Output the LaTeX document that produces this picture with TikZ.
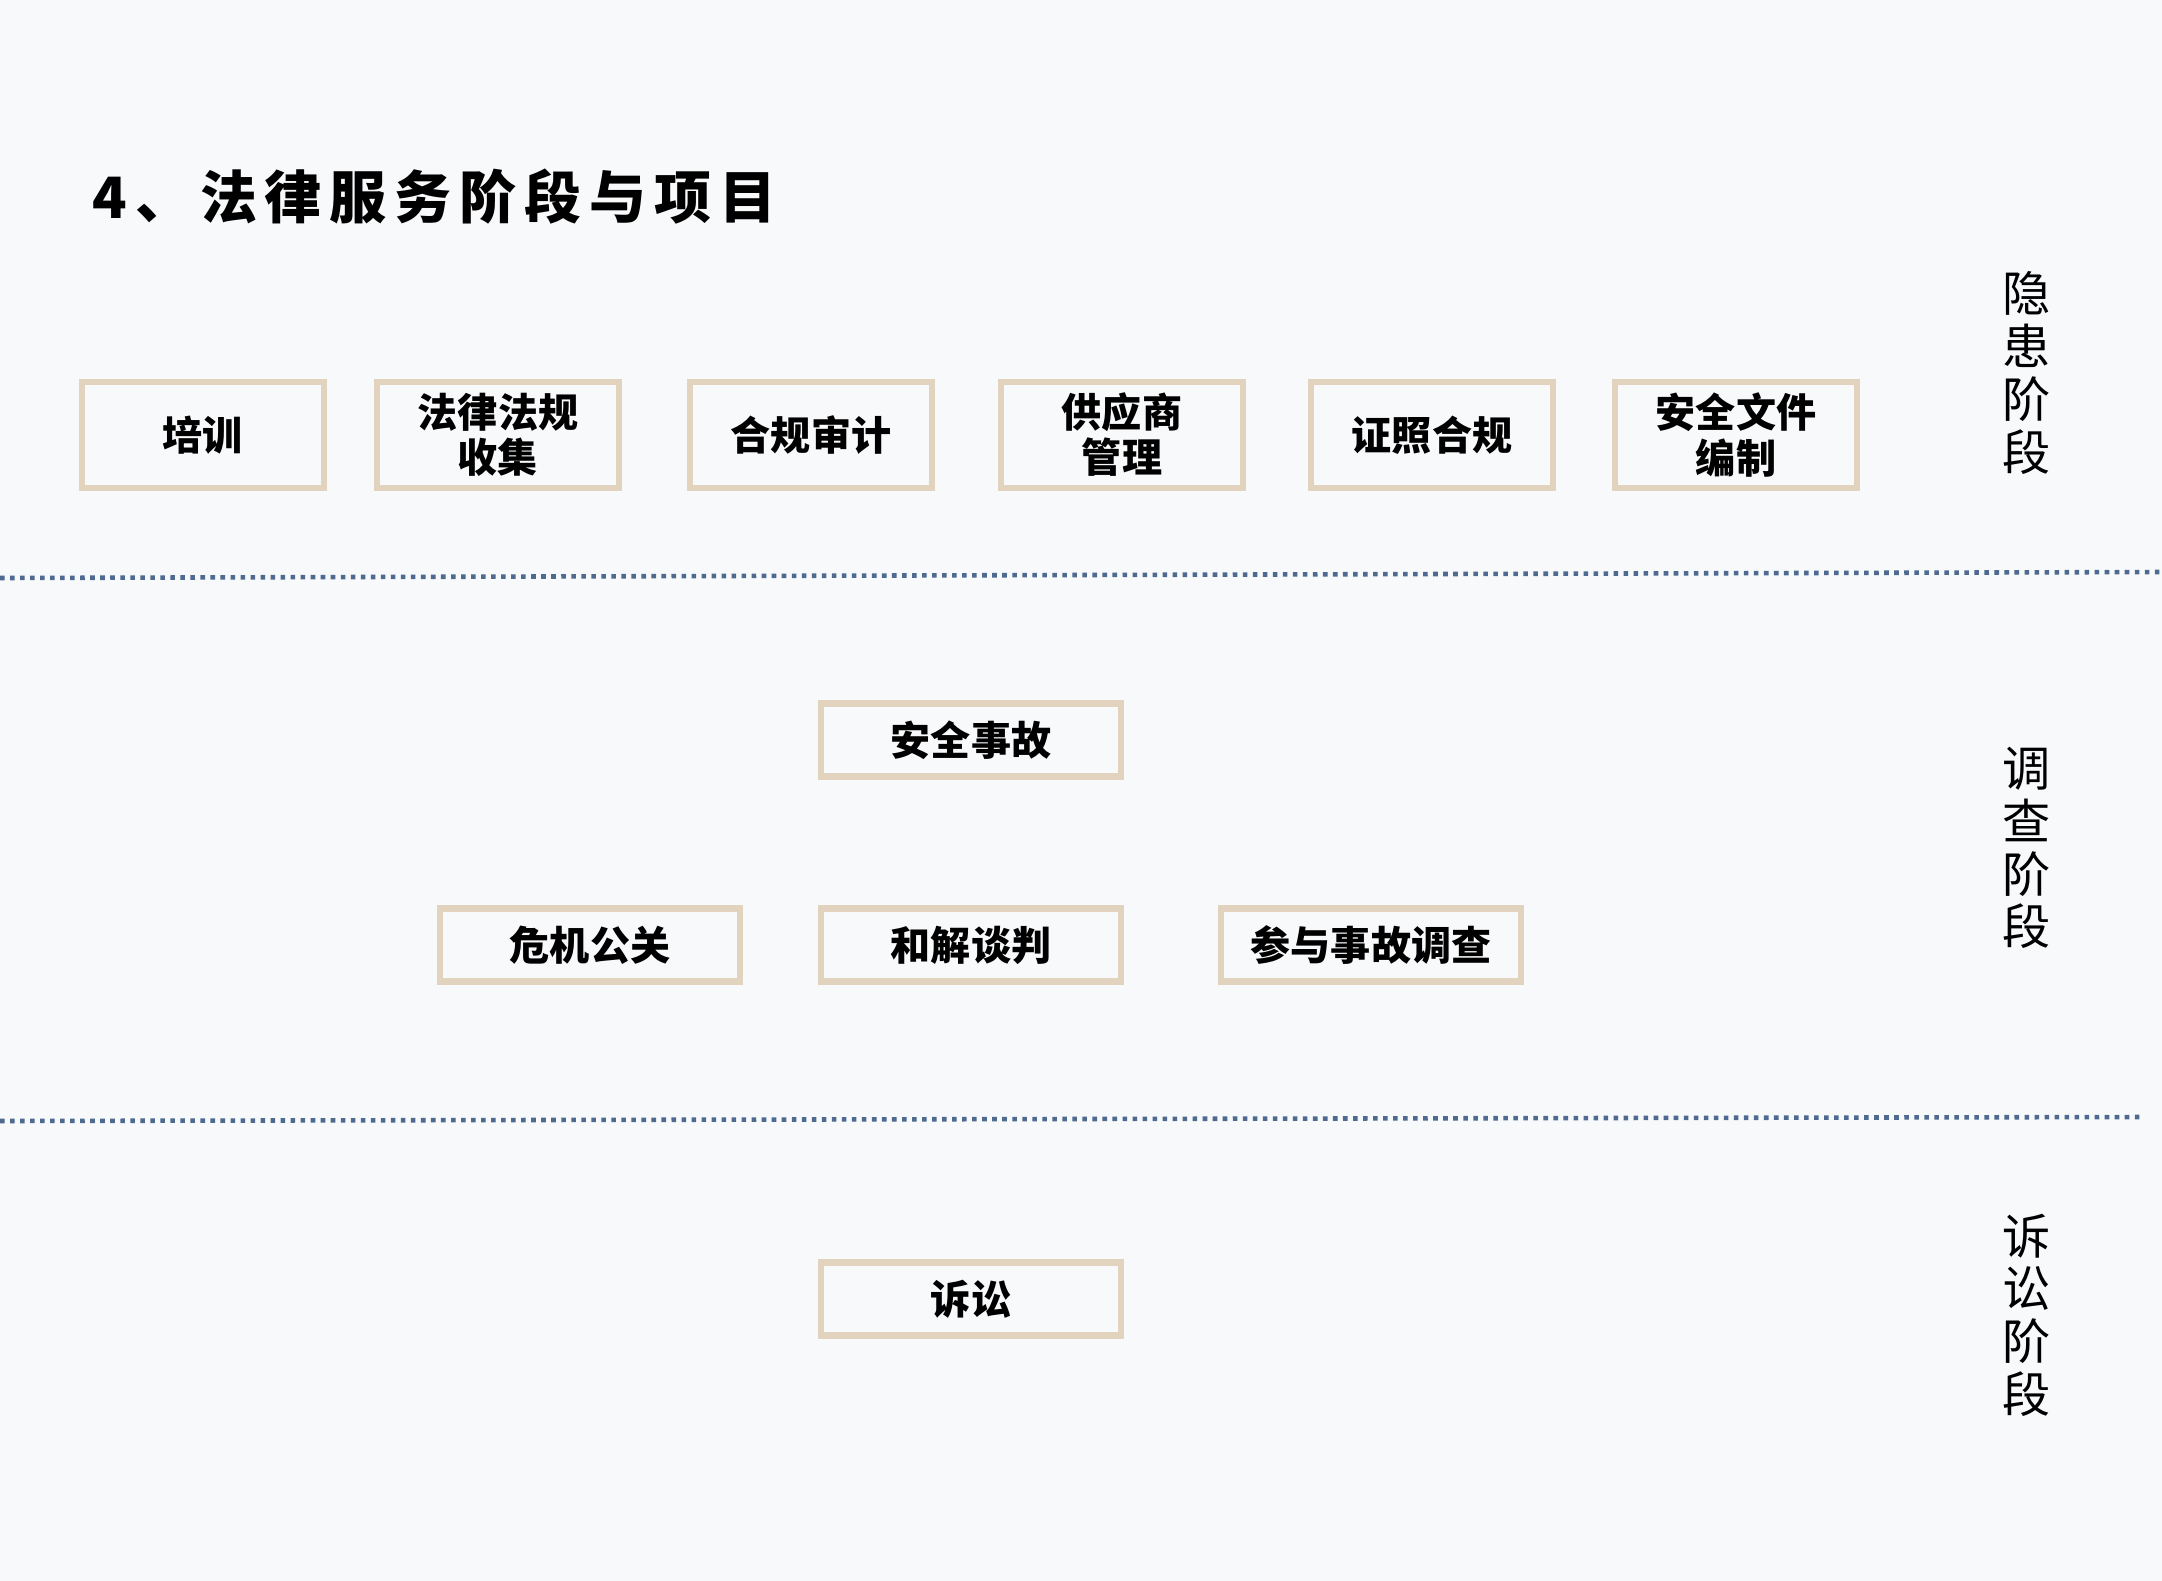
\documentclass[tikz,border=0pt]{standalone}
\usepackage{fontspec}
\setmainfont{Noto Sans CJK SC}
\newfontfamily\titlefont[LetterSpace=14]{Noto Sans CJK SC}
\usepackage{xcolor}
\usepackage{tikz}
\usetikzlibrary{positioning}
\definecolor{pagebg}{HTML}{F7F9FB}
\definecolor{boxline}{HTML}{E2D3BE}
\definecolor{dotline}{HTML}{4E6A90}

\begin{document}
\begin{tikzpicture}[
  x=0.01cm, y=-0.01cm,
  item/.style={draw=boxline, line width=1.85pt, fill=pagebg, inner sep=0pt,
    align=center, font=\fontsize{11.4}{12.8}\selectfont\bfseries},
  toprow/.style={item, minimum width=2.42cm, minimum height=1.06cm},
  midrow/.style={item, minimum width=3.0cm, minimum height=0.73cm},
  stagelab/.style={align=center, font=\fontsize{13.7}{15}\selectfont},
  divider/.style={dotline, line width=1.3pt, dash pattern=on 1.3pt off 1.55pt}
]
\fill[pagebg] (0,0) rectangle (2162,1581);
\useasboundingbox (0,0) rectangle (2162,1581);

\node[anchor=west, font=\titlefont\fontsize{16.2}{18}\selectfont\bfseries] (title) at (80,197) {4、法律服务阶段与项目};

% hidden-danger stage
\foreach \n/\x/\t in {peixun/203/培训, fagui/498/{法律法规\\收集}, shenji/811/合规审计,
    gongying/1122/{供应商\\管理}, zhengzhao/1432/证照合规, wenjian/1736/{安全文件\\编制}} {
  \node[toprow] (\n) at (\x,435) {\t};
}
\node[stagelab] (yinhuan) at (2027,373) {隐\\患\\阶\\段};

\coordinate (d1l) at (0,578);
\coordinate (d1r) at (2162,572);
\draw[divider] (d1l) -- (d1r);

% investigation stage
\node[midrow] (shigu) at (971,740) {安全事故};
\node[midrow] (weiji) at (590,945) {危机公关};
\node[midrow] (hejie) at (971,945) {和解谈判};
\node[midrow] (diaocha) at (1371,945) {参与事故调查};
\node[stagelab] (diaochajd) at (2027,848) {调\\查\\阶\\段};

\coordinate (d2l) at (0,1121);
\coordinate (d2r) at (2144,1117);
\draw[divider] (d2l) -- (d2r);

% litigation stage
\node[midrow] (susong) at (971,1299) {诉讼};
\node[stagelab] (susongjd) at (2027,1315) {诉\\讼\\阶\\段};
\end{tikzpicture}
\end{document}
